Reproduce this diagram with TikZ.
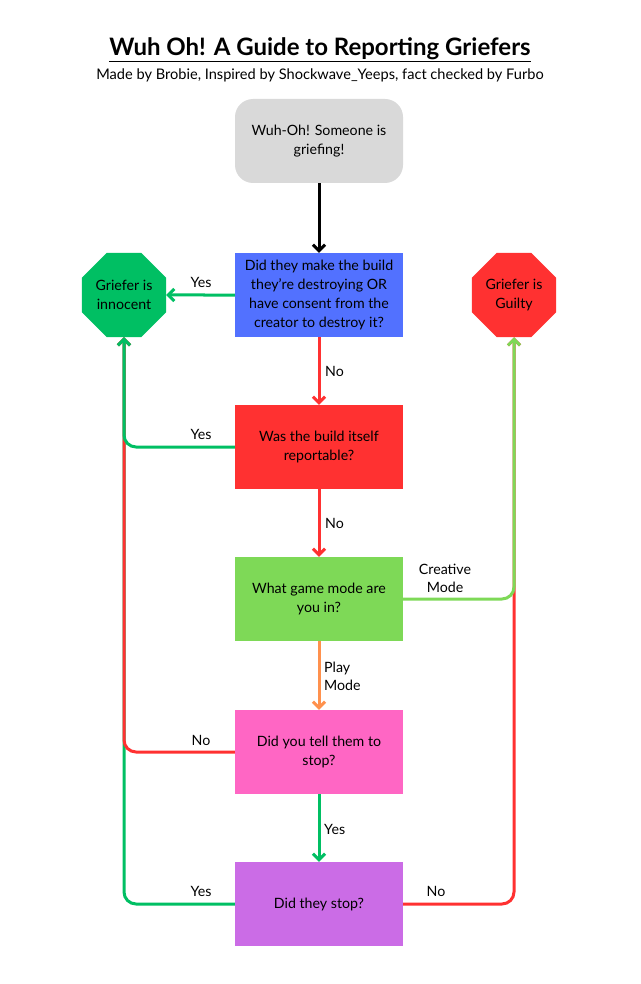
\documentclass[tikz,border=0pt]{standalone}
\usepackage{fontspec}
\setmainfont{Lato}
\usetikzlibrary{arrows.meta, shapes.geometric, positioning}
\definecolor{startgray}{HTML}{D9D9D9}
\definecolor{qblue}{HTML}{5271FF}
\definecolor{qred}{HTML}{FF3131}
\definecolor{qgreen}{HTML}{7ED957}
\definecolor{qpink}{HTML}{FF66C4}
\definecolor{qpurple}{HTML}{CB6CE6}
\definecolor{okgreen}{HTML}{00BF63}
\definecolor{playorange}{HTML}{FF914D}

\begin{document}
\begin{tikzpicture}[x=1pt, y=-1pt,
      q/.style={minimum width=168pt, minimum height=84pt, align=center, inner sep=0pt, font=\fontsize{14.2}{19}\selectfont},
      o/.style={regular polygon, regular polygon sides=8, minimum size=91pt, inner sep=0pt, align=center, font=\fontsize{14.2}{19}\selectfont},
      ln/.style={line width=3pt, rounded corners=12pt, -{Straight Barb[length=6pt,width=12pt,line width=3pt]}},
      lbl/.style={inner sep=1pt, align=center, font=\fontsize{14.2}{18}\selectfont}]
      \useasboundingbox (0,0) rectangle (640,984);

      \node[font=\fontsize{24}{28}\selectfont\bfseries] (title) at (320,50) {\underline{Wuh Oh! A Guide to Reporting Griefers}};
      \node[font=\fontsize{14.6}{17}\selectfont] (sub) at (320,75) {Made by Brobie, Inspired by Shockwave\_Yeeps, fact checked by Furbo};

      \node[q, fill=startgray, rounded corners=18pt] (start) at (319,141) {Wuh-Oh! Someone is\\griefing!};
      \node[q, fill=qblue] (q1) at (319,295) {Did they make the build\\they’re destroying OR\\have consent from the\\creator to destroy it?};
      \node[q, fill=qred] (q2) at (319,447) {Was the build itself\\reportable?};
      \node[q, fill=qgreen] (q3) at (319,599) {What game mode are\\you in?};
      \node[q, fill=qpink] (q4) at (319,752) {Did you tell them to\\stop?};
      \node[q, fill=qpurple] (q5) at (319,904) {Did they stop?};

      \node[o, fill=okgreen] (inno) at (124,295) {Griefer is\\innocent};
      \node[o, fill=qred] (guilty) at (514,295) {Griefer is\\Guilty};

      % straight arrows
      \draw[ln, black] (start) -- (q1);
      \draw[ln, okgreen] (q1) -- (inno);
      \draw[ln, qred] (q1) -- (q2);
      \draw[ln, qred] (q2) -- (q3);
      \draw[ln, playorange] (q3) -- (q4);
      \draw[ln, okgreen] (q4) -- (q5);

      % long way round
      \draw[ln, okgreen] (q5.west) -- (inno.south |- q5.west) -- (inno.south);
      \draw[ln, qred] (q4.west) -- (inno.south |- q4.west) -- (inno.south);
      \draw[ln, okgreen] (q2.west) -- (inno.south |- q2.west) -- (inno.south);
      \draw[ln, qred] (q5.east) -- (guilty.south |- q5.east) -- (guilty.south);
      \draw[ln, qgreen] (q3.east) -- (guilty.south |- q3.east) -- (guilty.south);

      \node[lbl] (y1) at (201,282) {Yes};
      \node[lbl, anchor=west] (n1) at (324,371) {No};
      \node[lbl] (y2) at (201,434) {Yes};
      \node[lbl, anchor=west] (n2) at (324,523) {No};
      \node[lbl] (cm) at (445,578) {Creative\\Mode};
      \node[lbl, anchor=west, align=left] (pm) at (323,676) {Play\\Mode};
      \node[lbl] (n3) at (201,740) {No};
      \node[lbl, anchor=west] (y3) at (323,829) {Yes};
      \node[lbl] (y4) at (201,891) {Yes};
      \node[lbl] (n4) at (436,891) {No};
\end{tikzpicture}
\end{document}
